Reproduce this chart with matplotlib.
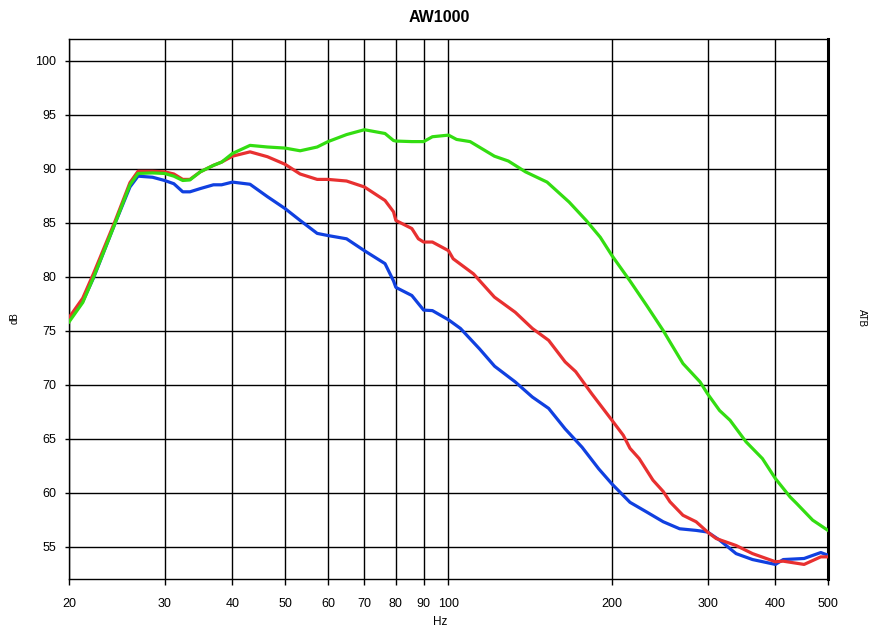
import numpy as np
import matplotlib
matplotlib.use('Agg')
import matplotlib.pyplot as plt
from matplotlib.ticker import FixedLocator, NullLocator, FixedFormatter

plt.rcParams['font.family'] = ['Liberation Sans', 'DejaVu Sans']

# DATA --->
blue_f = [20, 21.2, 22.2, 24.3, 25.9, 26.8, 28.5, 30, 31.2, 32.4, 33.4, 34.9, 36.9, 38.2,
          40, 43.1, 46.4, 50, 53.3, 57.3, 60, 64.9, 70, 76.4, 79.2, 80, 85.6, 88, 90,
          93.4, 100, 105.2, 114.1, 121.6, 132.7, 142.7, 152.9, 164, 176.2, 189.1, 200,
          215.9, 231.8, 248.6, 266.5, 285.8, 300, 315.7, 338.6, 363.1, 400, 413.5,
          451.8, 484.9, 500]
blue_db = [76.0, 77.7, 79.9, 84.9, 88.3, 89.3, 89.2, 88.9, 88.6, 87.85, 87.85, 88.15, 88.5, 88.5,
           88.75, 88.55, 87.4, 86.3, 85.2, 84.0, 83.8, 83.5, 82.4, 81.2, 79.6, 79.0, 78.25, 77.5, 76.9,
           76.85, 76.0, 75.2, 73.3, 71.7, 70.25, 68.85, 67.8, 65.9, 64.2, 62.2, 60.8,
           59.1, 58.2, 57.3, 56.65, 56.5, 56.35, 55.6, 54.35, 53.8, 53.35, 53.8,
           53.9, 54.45, 54.2]

red_f = [20, 21.2, 22.2, 24.3, 25.9, 26.8, 28.5, 30, 31.2, 32.4, 33.4, 34.9, 36.9, 38.2,
         40, 43.1, 46.4, 50, 53.3, 57.3, 60, 64.9, 70, 76.4, 79.2, 80, 85.6, 88, 90,
         93.4, 100, 102, 111.2, 121.5, 132.7, 142.7, 152.9, 164, 171.5, 183.6, 200,
         209.9, 215.9, 224.5, 238, 248.6, 255.8, 270.3, 285.8, 300, 311.1, 338.6,
         363.1, 400, 413.5, 451.8, 484.9, 500]
red_db = [76.2, 78.0, 80.3, 85.1, 88.7, 89.75, 89.75, 89.7, 89.5, 89.0, 89.0, 89.7, 90.3, 90.6,
          91.15, 91.55, 91.1, 90.4, 89.5, 89.0, 89.0, 88.85, 88.3, 87.05, 86.0, 85.2, 84.45, 83.5, 83.2,
          83.2, 82.4, 81.65, 80.25, 78.1, 76.7, 75.2, 74.1, 72.1, 71.2, 69.15, 66.7,
          65.3, 64.1, 63.15, 61.15, 60.1, 59.15, 57.9, 57.3, 56.35, 55.75, 55.1,
          54.35, 53.6, 53.65, 53.35, 54.05, 54.05]

green_f = [20, 21.2, 22.2, 24.3, 25.9, 26.8, 28.5, 30, 31.2, 32.4, 33.4, 34.9, 36.9, 38.2,
           40, 43.1, 46.4, 50, 53.3, 57.3, 60, 64.9, 70, 76.4, 79.2, 80, 85.6, 88, 90,
           93.4, 100, 103.5, 109.6, 121.5, 128.9, 138.6, 151.9, 166.8, 179.3, 190.3, 200,
           215.9, 231.9, 248.6, 255.8, 270.3, 290.6, 300, 315.7, 330, 353.2, 378.6,
           400, 425.7, 437.6, 468.5, 500]
green_db = [75.8, 77.6, 79.95, 84.9, 88.5, 89.55, 89.6, 89.55, 89.3, 88.9, 88.95, 89.7, 90.3, 90.6,
            91.4, 92.15, 92.0, 91.9, 91.65, 92.0, 92.5, 93.15, 93.6, 93.25, 92.6, 92.55, 92.5, 92.5, 92.5,
            92.95, 93.1, 92.7, 92.5, 91.15, 90.7, 89.7, 88.75, 86.9, 85.2, 83.65, 81.95,
            79.6, 77.3, 75.0, 73.95, 71.95, 70.25, 69.15, 67.6, 66.7, 64.7, 63.15,
            61.3, 59.6, 59.0, 57.45, 56.5]

x_ticks = [20, 30, 40, 50, 60, 70, 80, 90, 100, 200, 300, 400, 500]
x_labels = ['20', '30', '40', '50', '60', '70', '80', '90', '100', '200', '300', '400', '500']
y_ticks = [55, 60, 65, 70, 75, 80, 85, 90, 95, 100]
# <--- DATA

# PLOT --->
fig = plt.figure(figsize=(8.78, 6.38), dpi=100)
ax = fig.add_axes([69 / 878, 1 - 579 / 638, 759 / 878, 540 / 638])

ax.plot(blue_f, blue_db, color='#1040e0', linewidth=2.3, zorder=3)
ax.plot(red_f, red_db, color='#e83030', linewidth=2.3, zorder=4)
ax.plot(green_f, green_db, color='#33dd11', linewidth=2.3, zorder=5)

ax.set_xscale('log')
ax.set_xlim(20, 500)
ax.set_ylim(52, 102)

ax.xaxis.set_major_locator(FixedLocator(x_ticks))
ax.xaxis.set_major_formatter(FixedFormatter(x_labels))
ax.xaxis.set_minor_locator(NullLocator())
ax.set_yticks(y_ticks)

ax.grid(True, which='major', color='black', linewidth=1.0)
ax.tick_params(axis='x', direction='out', length=4, width=1, pad=10, labelsize=9)
ax.tick_params(axis='y', direction='out', length=3, width=1, pad=6, labelsize=9)

for side in ['left', 'top', 'bottom']:
    ax.spines[side].set_linewidth(1.0)
ax.spines['right'].set_linewidth(2.2)

# title and axis labels placed by hand like the original
fig.text(439 / 878, 1 - 18 / 638, 'AW1000', fontsize=11.5, fontweight='bold',
         ha='center', va='center')
fig.text(440 / 878, 1 - 622 / 638, 'Hz', fontsize=8.5, ha='center', va='center')
fig.text(15 / 878, 1 - 318 / 638, 'dB', rotation=90, fontsize=7,
         ha='center', va='center')
fig.text(862 / 878, 1 - 318 / 638, 'ATB', rotation=-90, fontsize=7,
         ha='center', va='center')

fig.savefig('out.png', dpi=100)
plt.close(fig)
# <--- PLOT
